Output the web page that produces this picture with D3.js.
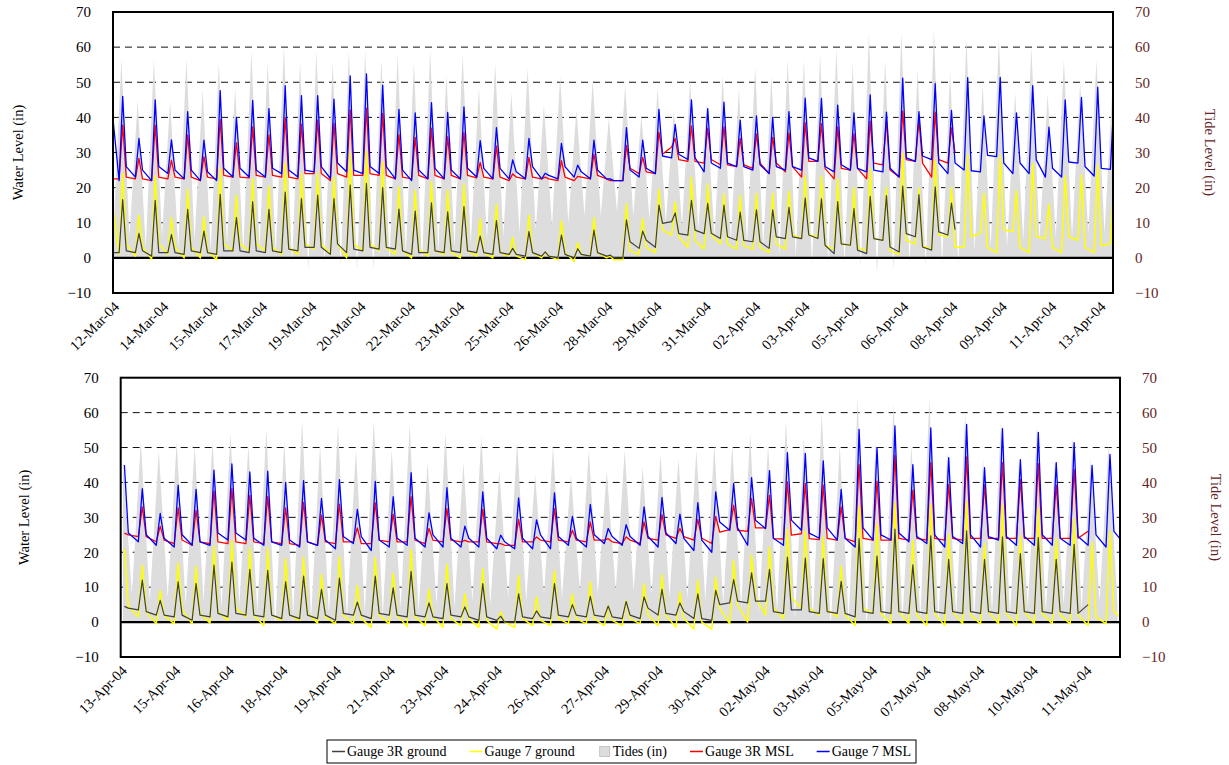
<!DOCTYPE html>
<html><head><meta charset="utf-8">
<script src="https://cdn.jsdelivr.net/npm/d3@7"></script>
<style>
body{margin:0;background:#fff}
svg{display:block}
text{font-family:"Liberation Serif","Times New Roman",serif}
</style>
</head><body>
<svg id="chart" width="1229" height="765" font-family="Liberation Serif, Times New Roman, serif"></svg>
<script>
// ---------- data ----------
const CYCLE_H = 12.42;            // hours per tide cycle (one gauge peak per cycle)
const TIDE_LEAD_H = 1.0;          // tide highs come slightly before gauge peaks
const GAUGE_PHASES = [0, 0.22, 0.78]; // sample times in a cycle: peak, after the drop, low before the rise
const TIDE_PHASES = [0, 0.5];         // high, low
const yTicks = [-10,0,10,20,30,40,50,60,70];
const gridLevels = [10,20,30,40,50,60];

const datesTop = ["12-Mar-04","14-Mar-04","15-Mar-04","17-Mar-04","19-Mar-04","20-Mar-04","22-Mar-04","23-Mar-04","25-Mar-04","26-Mar-04","28-Mar-04","29-Mar-04","31-Mar-04","02-Apr-04","03-Apr-04","05-Apr-04","06-Apr-04","08-Apr-04","09-Apr-04","11-Apr-04","13-Apr-04"];
const datesBottom = ["13-Apr-04","15-Apr-04","16-Apr-04","18-Apr-04","19-Apr-04","21-Apr-04","23-Apr-04","24-Apr-04","26-Apr-04","27-Apr-04","29-Apr-04","30-Apr-04","02-May-04","03-May-04","05-May-04","07-May-04","08-May-04","10-May-04","11-May-04"];

// Tides (in): [high, following low] per cycle
const tideTop = [[50,6],[56.5,6],[44.8,3],[56.5,6],[44.8,3],[56.5,5],[48,2],[55.6,4],[48.3,2],[59,3],[55.6,1],
 [60.2,-1.6],[55.6,-3.5],[59,-1.6],[55.6,-2.5],[59,-3.7],[59,-3.5],[56.5,-1],[57.8,1],[55.5,-1.6],[59.2,2],
 [52,3],[57.8,4],[48.3,5],[55.4,6],[47,7],[54,8],[43.5,9],[51.8,10],[42,12],[50.6,12],
 [40,13],[49.2,12],[40.6,11],[48.3,10],[42,9],[50.6,8],[43.5,6],[51.8,5],[48.3,4],[54.4,3],
 [51.8,1],[56.5,0],[56.3,-2],[57.8,-1.6],[59.7,-1.6],[55.4,-2.6],[64,-5],[56.5,-3.5],[64,-1.6],[53.5,-2.6],
 [65,-2.1],[53,-2.1],[62.5,2],[49.2,3],[62.5,3],[47,5],[60,5],[46.8,6],[56.3,6],[50,7],[56.3,7],[50,6]];
const tideBottom = [[46,8],[51.8,6],[49.2,7],[51.8,5],[50.4,6],[51.8,4],[54,5],[50.7,3],[55.4,-1.4],[51.8,2],
 [57.8,1],[50.7,2],[56.6,1],[49.4,3],[57.8,2],[49.4,4],[56.6,3],[45.7,5],[54.2,4],[45.7,6],
 [53.3,5],[43.2,7],[51.8,6],[42.1,8],[50.4,7],[42.1,9],[49.2,8],[43.2,9],[49.2,9],[44.4,8],
 [48,7],[46.8,7],[49.2,6],[50.7,5],[50.7,4],[54,3],[50.7,3],[57.8,1],[53,1],[60,-1.4],
 [50.7,0],[64,-1.4],[51.8,-1.4],[62.6,0],[50.7,1],[63.9,0],[48.6,2],[60,1],[46.8,3],[57.8,2],
 [45.9,4],[56.4,3],[45.9,5],[53,4],[46.8,6],[50.7,5]];

// Gauge 7 MSL: [peak, after drop, low] per cycle
const g7MslTop = [[50,48,22],[46,26,23],[34,25,22],[45,26,24],[33.6,25,22.5],[41.6,25,22],[33.5,24.5,22],[47.6,25.5,23],[40,25.5,23],[44.8,25,23],
 [42.5,25.5,24],[49,25,23],[46.2,25,24.5],[46.2,26,22.6],[45.2,27,24.5],[51.8,25,24],[52.4,26,24],[49.2,26,22.5],[42.3,25,22],[41.3,25,22.5],
 [44.2,25.5,22.5],[41.4,25,22.5],[43,25.5,23],[33.4,25.5,22.5],[37.1,25.5,22.5],[27.9,24.5,22.5],[34,26,22.5],[24.1,23.5,22.5],[32.6,26,23],[26.4,24.5,22.5],
 [33.5,25,22.5],[22.5,22,22],[37.1,25,23],[33.5,25.5,24],[42.3,29,28.5],[38,29.5,28],[45,28.5,24.5],[42.5,27,25.5],[44.3,27,26],[39.2,26,25],
 [40.4,26.5,24],[40,26,25],[41.6,26,25],[45.5,28.5,27.5],[45.4,26,24.5],[43.5,26.5,25],[41.3,25.5,24.5],[46.4,25,24.5],[41.5,25.5,23],[51.2,28.5,27.5],
 [41.6,29,28],[49.6,27,24],[42,27,25],[51.3,24.8,24.5],[40.4,29.2,28.8],[51.4,27,24],[41.3,27,24],[49,27.9,23],[37.2,25.5,23],[45,27.3,27],
 [45.7,26,23.3],[48.6,25.5,25.2],[45,26,24]];
const g7MslBottom = [[45,25.5,23],[38.2,25,22],[31.1,24,21.5],[39.2,25,22],[38,23,22],[43.5,25.5,23.5],[45.3,25.5,23.5],[43,24,22],[43.2,23,22],[40,23.5,21.5],
 [40.5,23,22],[35.4,23.5,21],[40.8,24.5,22.5],[32.3,24.5,20.5],[40.3,23.5,21.5],[35.9,24,22],[42.8,24,21.5],[31.3,25,21.5],[38.5,24,21.5],[27.5,24,21.5],
 [37.3,24,21],[24.9,23,21],[35.6,24,21],[29.3,25,21],[37,24.5,22],[30.3,24,21.5],[33.7,25,22.5],[26.8,24.5,22],[27.9,24.5,22],[33,24.5,21.5],
 [35.7,25.5,22.5],[30.9,24,20.5],[34.2,23.5,20],[37.3,28.7,26.3],[39.7,27,22],[41.4,29.2,26.8],[43.4,24,22],[48.5,29.2,26.3],[48.3,25.5,24],[46.2,27,23.5],
 [38,24,21.5],[55.2,27,23.5],[50,25,23.5],[56.2,25.5,23],[45.1,24.5,22.5],[55.6,25,21.5],[47.1,24.5,22.5],[56.6,25,21.5],[44.2,24.5,23.5],[55.4,24.5,22],
 [46.5,24.5,22],[54.3,25,22],[45.7,24,22],[51.4,24.5,22],[44.9,25,21.5],[48,26,22.5]];

// Gauge 3R MSL
const g3MslTop = [[23,22.5,22.5],[37.8,23,22.5],[28.3,22.5,22],[37.8,23,22.5],[27.8,23,22.5],[35,23,22],[28.8,23,22.5],[39.4,23.5,23],[32.8,23,22.8],[37.3,23.5,23],
 [35,23.5,23],[40,23,22.5],[38.1,24,24],[39.2,24,22],[38.3,24,23],[42.1,23.5,23.5],[42.6,24,23.5],[41.1,23.5,22.5],[35.1,23,22.5],[34.3,23.5,22.5],
 [36.9,23.5,22.5],[34.5,23.5,22.5],[35.7,23.5,22.8],[27.2,23,22.5],[31.9,23,22],[23.9,23,22.5],[28.6,23,22.5],[23,22.5,22],[27.7,23,22],[23.2,23,22.5],
 [29.5,23.5,22.5],[22,22,22],[32,25.5,24],[28.6,24.5,24],[35.8,29.5,31.6],[34,28,27.5],[37.6,27.5,27],[36.9,28,26.5],[37.3,26.5,26],[34,26.5,25.5],
 [35.3,27,24],[34.3,27,24.5],[35.5,26,23],[38.5,27.5,27.5],[38.2,25.5,22.5],[37.3,25.5,25],[35.3,25.5,22.5],[38.9,27,26.5],[39,25,23],[41.8,28,27.5],
 [39.5,27,23],[41.5,28,27],[37,30]];
const g3MslBottom = [[25.5,25,24.5],[33,24.5,23],[27.4,23.5,22.5],[32.7,23.5,22],[32,23,22.5],[37.6,23,22.5],[38.2,23,22.5],[36.3,23,22.5],[36,23,22.5],[32.7,22.5,22],
 [34.3,23,22],[30.6,23,22.5],[33.8,23,23],[27,22.5,22.5],[34.2,23.5,23],[30.9,23,23],[35.9,23.5,22.5],[26.8,23.5,23],[32.5,23.5,23],[23.4,23,23],
 [32.3,23,22.5],[22.5,22,22],[29.4,23,23],[24.4,23.5,23],[32.5,23.5,23],[26.3,23.5,23],[28.7,23.5,23.5],[23.9,23,22.5],[24.4,23.5,22.5],[28.7,24,23.5],
 [30.8,25,24],[26.8,24.5,23.5],[29.4,24,22.5],[30.3,25.8,26.5],[33.5,26.3,26],[35.4,27,27],[36.3,23.9,23.8],[40.2,24.9,25.3],[39.7,23.9,23.6],[39.2,24,23.5],
 [33,24,23],[45.2,24,23.5],[40.4,23.5,23.5],[47.8,24,23.5],[37.8,24,23.5],[45.7,24,23.5],[39.4,24,23.5],[47.3,24,24],[39.2,24,24],[45.7,24,24],
 [40.8,24,24],[45.4,24,24],[39.2,24,24],[43.7,24,26]];

// Gauge 7 ground
const g7GroundTop = [[22,20,1],[24,4,0.5],[12.2,3,-0.3],[23.3,4,1],[11.5,3,0],[19.5,3,0],[11.7,2,-0.5],[25.5,4,2],[17.9,4,2],[22.6,4,2],
 [20.4,3,1],[26.9,3,1],[24,4,2.5],[24,4,1],[23.1,4,0],[29.7,4,2],[30.2,4,2],[27.2,3,1],[20.2,2,0],[19.2,2.5,0.5],
 [21.7,2,1],[19.3,1.5,0],[21,2,0.5],[11.2,1.5,0],[15.3,1.5,0.5],[5.8,0.5,-0.5],[12.2,1.5,0],[1.7,0.5,-0.5],[10.6,1.5,-1],[4.3,1,0.5],
 [11.5,1.5,0],[0.5,-0.5,-0.5],[15.4,2,1],[11.2,3,1.5],[19.5,8,6.5],[16,6,3],[23,5,2.5],[21,6.5,4],[18.2,4,2.5],[17.8,3.5,2.5],
 [18.4,3,1.5],[18.4,4,2.5],[19,6.5,5.5],[23.3,6.5,6],[23.3,3.5,2.5],[22.5,4,3.5],[20,3,2],[25.5,5.5,5],[20,2,1],[29.8,5,4],
 [19.8,3.5,2.5],[27.8,6.5,6],[20,3,3],[29.5,6,7],[18.4,3,1.5],[29.3,8,7.5],[19.2,3,1.5],[26.9,6,5.5],[15.3,3,1.5],[23.4,6,5],
 [23.5,3,1.5],[26.7,3.5,4],[22,4,3]];
const g7GroundBottom = [[21,4.5,1.5],[16.3,3,-0.5],[9,2,-0.5],[17,3.5,-0.5],[16,2.5,-0.3],[21.8,3,0.5],[23.4,4,1.5],[21.2,2,-1],[21.2,2,0.5],[18.2,2,0.5],
 [18.6,2.5,-0.3],[13.6,1.5,-0.5],[18.7,2,-0.5],[10.5,1,-1.5],[18.4,2,-0.5],[14,2,-1.3],[20.8,1.5,-1],[9.4,1.5,-1.5],[16.5,1,-1],[8.1,1,-1.5],
 [15.3,0.5,-2],[2.9,0,-1.5],[13.4,1,-1],[7.2,0.5,-1],[14.8,1,-0.5],[8.1,1,-0.5],[11.5,1,-1],[4.8,0.5,-1],[6.2,1,-0.5],[11,2,-1],
 [13.6,2,-1.5],[8.6,1,-2],[12.1,0,-2],[12.9,4,-0.5],[17.7,5,0],[19.3,7,2],[21.5,4,1],[26.6,7,4],[26.1,4,2],[24.4,3.5,1.5],
 [16,2,-1],[33.2,4,2.5],[27.9,2.5,-0.5],[34.2,3,-0.5],[23.4,2,-1],[33.7,2.5,-1],[25.1,3,-0.5],[34.6,2,-0.5],[22.5,3,-0.5],[33.5,2.5,-1],
 [24.7,3,-0.5],[32.5,2.5,-0.5],[23.9,2,-0.5],[29.6,2,-1],[22.9,1.5,-0.5],[26.1,3,0.5]];

// Gauge 3R ground
const g3GroundTop = [[2,1.5,1.5],[16.6,2,1.5],[7,2,0.5],[16.4,1.5,1.5],[6.6,1.5,1],[13.8,2,1.5],[7.6,1.5,1],[18.1,2,2],[11.5,2,1.5],[16,2,1.5],
 [13.8,2,1.5],[18.7,2.5,2],[16.9,3,3],[17.9,3,1],[16.9,4,1.5],[20.7,2.5,2],[21.2,3,2.5],[20,3,2.5],[13.9,2,1],[13.3,1.5,1.5],
 [15.7,2,1.5],[13.1,2,1.5],[14.6,2,1.5],[6.2,1.5,1],[10.6,1.5,1],[2.7,1,0.5],[7.5,1.5,0.5],[1.7,0.5,0],[6.5,1,0],[2.6,1,0.5],
 [7.9,1.5,0.5],[0.8,0,0],[10.8,4.6,2.7],[7.6,5,3],[15,9.8,10.3],[12.8,6.9,6.5],[16.4,7.9,6.9],[15.5,7,5.5],[15,6,5],[13,5,4.6],
 [13.7,4.6,2.7],[13.7,6,5.5],[14.4,6,5.5],[17,6.5,5.5],[16.8,3.6,1.2],[16,4,3.6],[14,2.2,1.2],[17.5,5.5,5],[17.7,3.1,1.7],[20.4,6.9,6],
 [18,3.1,2.2],[20.2,7.4,6.5],[15.6,8]];
const g3GroundBottom = [[4.5,4,3.5],[12,3,2],[6.2,2,1.5],[11.5,2,0.5],[11,2,1.5],[16.3,2.5,1.5],[17.2,2.5,2],[15.1,2,1.5],[14.8,2,1],[11.5,2,1],
 [13.2,2,1],[9.4,2,0.5],[12.6,2.5,2],[5.7,2,1],[13.2,2.5,2],[9.8,2,1.5],[14.5,2,1.5],[5.5,1.5,1],[11,2,1.5],[4.3,1.5,0.5],
 [11,1.5,0.5],[1.7,0,0],[8.1,1.5,1],[3.2,1.5,1],[11,2,1.5],[5,2,1.5],[7.4,2,1.5],[4.6,1.5,1],[5.9,2,1],[7.2,4,2],
 [9.4,2.5,2],[5.5,3,1],[8.1,1,0.5],[9.1,5,5.5],[12.2,6,5.5],[14.1,6,6],[15.1,3,2.5],[18.6,3.5,3.5],[18.3,3,2.5],[18.2,3,2.5],
 [11.7,2.5,1.5],[23.9,3,2.5],[18.9,3,2.5],[26.6,3,2.5],[16.4,3,2.5],[24.7,3,2.5],[18,3,2.5],[26.1,3,2.5],[18,3,2.5],[24.4,3,2.5],
 [19.6,3,2.5],[24.2,3,2.5],[18,3,2.5],[22.3,2.5,5]];

// ---------- layout ----------
const FONT = "Liberation Serif, Times New Roman, serif";
const COLORS = {g3g:"#404040", g7g:"#ffff00", tide:"#dddddd", g3m:"#ff0000", g7m:"#0000ff", right:"#632423"};
const panels = [
  {left:113, right:1113, top:12, bottom:293, hours:764.3, labelStep:37.7, firstPeak:-5.01,
   dates:datesTop, tide:tideTop, g3g:g3GroundTop, g7g:g7GroundTop, g3m:g3MslTop, g7m:g7MslTop, tlx:18, trx:1210},
  {left:120.7, right:1120, top:377.7, bottom:657, hours:692.6, labelStep:37.15, firstPeak:2.55,
   dates:datesBottom, tide:tideBottom, g3g:g3GroundBottom, g7g:g7GroundBottom, g3m:g3MslBottom, g7m:g7MslBottom, tlx:24, trx:1216}
];

const svg = d3.select("#chart");

function samplePoints(cycles, t0, phases){
  const out = [];
  cycles.forEach((c,k)=>c.forEach((v,j)=>out.push({t:t0 + (k + phases[j])*CYCLE_H, v})));
  return out;
}

panels.forEach((p,pi)=>{
  const x = d3.scaleLinear().domain([0,p.hours]).range([p.left,p.right]);
  const y = d3.scaleLinear().domain([-10,70]).range([p.bottom,p.top]);
  const g = svg.append("g");
  const clipId = "clip"+pi;
  g.append("clipPath").attr("id",clipId).append("rect")
    .attr("x",p.left).attr("y",p.top).attr("width",p.right-p.left).attr("height",p.bottom-p.top);

  // gridlines (behind the tide area)
  g.append("g").selectAll("line").data(gridLevels).join("line")
    .attr("x1",p.left).attr("x2",p.right).attr("y1",d=>y(d)).attr("y2",d=>y(d))
    .attr("stroke","#111").attr("stroke-width",1).attr("stroke-dasharray","7,5");

  const plot = g.append("g").attr("clip-path",`url(#${clipId})`);
  const tp = samplePoints(p.tide, p.firstPeak - TIDE_LEAD_H, TIDE_PHASES);
  plot.append("path").datum(tp)
    .attr("d", d3.area().x(d=>x(d.t)).y0(y(0)).y1(d=>y(d.v)))
    .attr("fill",COLORS.tide).attr("stroke","none");
  plot.append("line").attr("x1",p.left).attr("x2",p.right).attr("y1",y(0)).attr("y2",y(0))
    .attr("stroke","#000").attr("stroke-width",2.2);

  const line = d3.line().x(d=>x(d.t)).y(d=>y(d.v));
  [["g7g",1.5],["g3g",1.2],["g3m",1.3],["g7m",1.3]].forEach(([key,w])=>{
    plot.append("path").datum(samplePoints(p[key], p.firstPeak, GAUGE_PHASES))
      .attr("d",line).attr("fill","none").attr("stroke",COLORS[key])
      .attr("stroke-width",w).attr("stroke-linejoin","round");
  });

  g.append("rect").attr("x",p.left).attr("y",p.top).attr("width",p.right-p.left).attr("height",p.bottom-p.top)
    .attr("fill","none").attr("stroke","#000").attr("stroke-width",2);

  const la = g.append("g").attr("transform",`translate(${p.left},0)`)
    .call(d3.axisLeft(y).tickValues(yTicks).tickSize(0).tickPadding(22).tickFormat(d3.format("d")));
  la.attr("font-family",FONT).attr("font-size",15);
  la.select(".domain").remove();
  la.selectAll("text").attr("fill","#000");
  const ra = g.append("g").attr("transform",`translate(${p.right},0)`)
    .call(d3.axisRight(y).tickValues(yTicks).tickSize(0).tickPadding(22).tickFormat(d3.format("d")));
  ra.attr("font-family",FONT).attr("font-size",15);
  ra.select(".domain").remove();
  ra.selectAll("text").attr("fill",COLORS.right);

  const tickTimes = p.dates.map((_,i)=>i*p.labelStep);
  const xa = g.append("g").attr("transform",`translate(0,${p.bottom})`)
    .call(d3.axisBottom(x).tickValues(tickTimes).tickSize(0).tickFormat((d,i)=>p.dates[i]));
  xa.attr("font-family",FONT).attr("font-size",14.5);
  xa.select(".domain").remove();
  xa.selectAll("text")
    .attr("fill","#000").attr("text-anchor","end").attr("y",0).attr("dy","0.35em")
    .attr("transform","translate(3,11) rotate(-45)");

  const cy = (p.top+p.bottom)/2;
  g.append("text").attr("transform",`translate(${p.tlx},${cy}) rotate(-90)`)
    .attr("text-anchor","middle").attr("dy","0.35em").attr("font-size",14.5).attr("font-family",FONT).attr("fill","#000")
    .text("Water Level (in)");
  g.append("text").attr("transform",`translate(${p.trx},${cy}) rotate(90)`)
    .attr("text-anchor","middle").attr("dy","0.35em").attr("font-size",14.5).attr("font-family",FONT).attr("fill",COLORS.right)
    .text("Tide Level (in)");
});

// legend
const legendItems = [
  {name:"Gauge 3R ground", color:COLORS.g3g, type:"line"},
  {name:"Gauge 7 ground", color:COLORS.g7g, type:"line"},
  {name:"Tides (in)", color:COLORS.tide, type:"box"},
  {name:"Gauge 3R MSL", color:COLORS.g3m, type:"line"},
  {name:"Gauge 7 MSL", color:COLORS.g7m, type:"line"}
];
const LEG = {left:327, right:916, top:740, height:23};
const lg = svg.append("g").attr("font-family",FONT);
lg.append("rect").attr("x",LEG.left).attr("y",LEG.top).attr("width",LEG.right-LEG.left).attr("height",LEG.height)
  .attr("fill","#fff").attr("stroke","#000").attr("stroke-width",1);
const ly = LEG.top + LEG.height/2;
const items = legendItems.map(it=>{
  const gi = lg.append("g");
  if(it.type==="line"){
    gi.append("line").attr("x1",0).attr("x2",13).attr("y1",ly).attr("y2",ly)
      .attr("stroke",it.color).attr("stroke-width",1.5);
  } else {
    gi.append("rect").attr("x",2).attr("y",ly-5).attr("width",10).attr("height",10)
      .attr("fill",it.color).attr("stroke","#bbb").attr("stroke-width",0.8);
  }
  const t = gi.append("text").attr("x",15).attr("y",ly).attr("dy","0.35em")
    .attr("font-size",14).attr("fill","#000").text(it.name);
  return {gi, w:15 + t.node().getComputedTextLength()};
});
const inner = (LEG.right-LEG.left) - 10;
const total = d3.sum(items, d=>d.w);
const gap = Math.max(6, (inner - total)/(items.length-1));
let cx = LEG.left + 5;
items.forEach(d=>{ d.gi.attr("transform",`translate(${cx},0)`); cx += d.w + gap; });
</script>
</body></html>
